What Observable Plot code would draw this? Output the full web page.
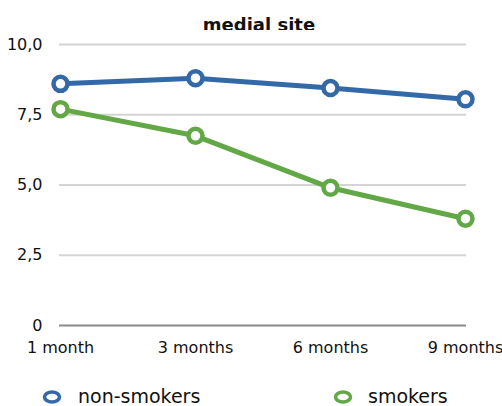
<!DOCTYPE html>
<html><head><meta charset="utf-8">
<script src="https://cdn.jsdelivr.net/npm/d3@7"></script>
<script src="https://cdn.jsdelivr.net/npm/@observablehq/plot@0.6"></script>
<style>
body{margin:0;background:#fff;font-family:"DejaVu Sans",sans-serif;width:502px;height:406px;overflow:hidden;position:relative}
#title{position:absolute;left:0;top:16px;width:518px;text-align:center;font-weight:bold;font-size:18px;line-height:1;color:#111}
#chart{position:absolute;left:0;top:30px}
#legend{position:absolute;top:0;left:0;width:502px;font-size:19px;line-height:1;color:#111}
.item{position:absolute;top:387px;line-height:1}
.mk{position:absolute;top:389px}
</style></head><body>
<div id="title">medial site</div>
<div id="chart"></div>
<div id="legend"></div>
<script>
const months = ["1 month","3 months","6 months","9 months"];
const seriesNames = ["non-smokers","smokers"];
const nonSmokers = [8.6, 8.8, 8.45, 8.05];
const smokers = [7.7, 6.75, 4.9, 3.8];
const yTicks = [0, 2.5, 5, 7.5, 10];
const colors = ["#3469a8", "#62a846"];

const data = [];
months.forEach((m,i)=>{
  data.push({month:m, series:seriesNames[0], value:nonSmokers[i]});
  data.push({month:m, series:seriesNames[1], value:smokers[i]});
});

const fmt = d => d === 0 ? "0" : d.toFixed(1).replace(".", ",");

const chart = Plot.plot({
  width: 502,
  height: 340,
  marginLeft: 59,
  marginRight: 36,
  marginTop: 14,
  marginBottom: 45,
  style: {fontFamily: "'DejaVu Sans', sans-serif", fontSize: "16px", color: "#111", background: "#fff", overflow: "visible"},
  x: {type: "point", domain: months, padding: 0, label: null},
  y: {domain: [0, 10], label: null},
  color: {domain: seriesNames, range: colors},
  marks: [
    Plot.ruleY(yTicks.filter(d => d > 0), {stroke: "#d4d4d4", strokeWidth: 2}),
    Plot.ruleY([0], {stroke: "#8a8a8a", strokeWidth: 2}),
    Plot.axisY(yTicks, {tickSize: 0, tickPadding: 17, tickFormat: fmt, fontSize: 16}),
    Plot.axisX(months, {tickSize: 0, tickPadding: 16, fontSize: 16}),
    Plot.line(data, {x: "month", y: "value", z: "series", stroke: "series", strokeWidth: 5}),
    Plot.dot(data, {x: "month", y: "value", stroke: "series", fill: "white", r: 7, strokeWidth: 4.5})
  ]
});
document.getElementById("chart").appendChild(chart);

const legend = document.getElementById("legend");
const markX = [52, 343];
const textX = [78, 368];
seriesNames.forEach((s,i)=>{
  const mk = document.createElement("div");
  mk.className = "mk";
  mk.style.left = (markX[i] - 10) + "px";
  mk.innerHTML = `<svg width="20" height="16"><ellipse cx="10" cy="8" rx="7.5" ry="5" fill="white" stroke="${colors[i]}" stroke-width="3.5"/></svg>`;
  legend.appendChild(mk);
  const t = document.createElement("div");
  t.className = "item";
  t.style.left = textX[i] + "px";
  t.textContent = s;
  legend.appendChild(t);
});
</script>
</body></html>
